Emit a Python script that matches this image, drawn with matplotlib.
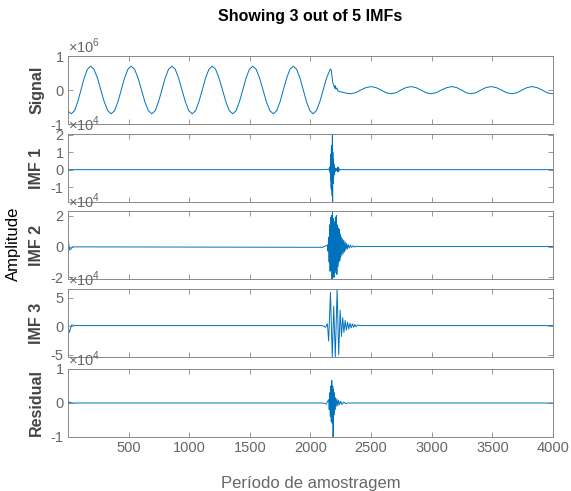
import matplotlib
matplotlib.use('Agg')
from matplotlib import pyplot as plt

plt.rcParams['font.family'] = ['Liberation Sans', 'DejaVu Sans']
plt.rcParams['mathtext.fontset'] = 'custom'
plt.rcParams['mathtext.rm'] = 'Liberation Sans'
plt.rcParams['axes.unicode_minus'] = False

# signal (x10^6) at ~1/12 period steps
sig_x = [1, 28, 55, 81, 108, 134, 161, 187, 215, 244, 272, 300, 329,
         357, 385, 412, 440, 467, 495, 522, 550, 579, 607, 635, 664,
         692, 720, 747, 775, 802, 830, 857, 885, 913, 941, 969, 997,
         1025, 1053, 1080, 1108, 1135, 1163, 1190, 1218, 1246, 1275, 1303, 1331,
         1359, 1387, 1414, 1442, 1469, 1497, 1524, 1552, 1581, 1609, 1637, 1666,
         1694, 1722, 1749, 1776, 1804, 1831, 1859, 1886, 1914, 1941, 1968, 1996,
         2023, 2050, 2077, 2105, 2130, 2150, 2165, 2172, 2185,
         2195, 2200, 2205, 2210, 2218, 2225, 2240, 2260, 2290, 2329, 2372, 2415, 2458,
         2500, 2541, 2582, 2623, 2664, 2706, 2747, 2788, 2829, 2870, 2911, 2952, 2993,
         3037, 3080, 3124, 3167, 3206, 3245, 3284, 3323, 3364, 3405, 3447, 3488, 3532,
         3575, 3618, 3661, 3703, 3745, 3786, 3826, 3868, 3910, 3952, 3993, 4000]
sig_y = [-0.62, -0.70, -0.61, -0.35, 0.0, 0.35, 0.61, 0.70, 0.61, 0.35, 0.0, -0.35, -0.61,
         -0.70, -0.61, -0.35, 0.0, 0.35, 0.61, 0.70, 0.61, 0.35, 0.0, -0.35, -0.61,
         -0.70, -0.61, -0.35, 0.0, 0.35, 0.61, 0.70, 0.61, 0.35, 0.0, -0.35, -0.61,
         -0.70, -0.61, -0.35, 0.0, 0.35, 0.61, 0.70, 0.61, 0.35, 0.0, -0.35, -0.61,
         -0.70, -0.61, -0.35, 0.0, 0.35, 0.61, 0.70, 0.61, 0.35, 0.0, -0.35, -0.61,
         -0.70, -0.61, -0.35, 0.0, 0.35, 0.61, 0.70, 0.61, 0.35, 0.0, -0.35, -0.61,
         -0.70, -0.60, -0.35, 0.0, 0.32, 0.50, 0.62, 0.58, 0.20,
         0.12, 0.05, 0.13, 0.02, 0.06, -0.02, -0.05, -0.06, -0.09,
         -0.11, -0.08, 0.0, 0.07, 0.10, 0.07, 0.0, -0.08, -0.11, -0.08, 0.0, 0.07, 0.10,
         0.07, 0.0, -0.08, -0.11, -0.08, 0.0, 0.07, 0.10, 0.07, 0.0, -0.08, -0.11, -0.08,
         0.0, 0.07, 0.10, 0.07, 0.0, -0.08, -0.11, -0.08, 0.0, 0.07, 0.10, 0.07, 0.0,
         -0.08, -0.11, -0.11]

# IMF 1 (x10^4)
imf1_x = [1, 4, 10, 2100, 2150, 2155, 2158, 2161, 2163, 2165, 2167, 2169, 2171, 2173, 2175,
          2177, 2179, 2181, 2183, 2185, 2187, 2189, 2191, 2193, 2195, 2197, 2200, 2203,
          2206, 2210, 2215, 2220, 2223, 2226, 2229, 2232, 2236, 2240, 2250, 4000]
imf1_y = [0.15, -0.05, 0.0, 0.0, 0.02, 0.05, -0.05, 0.15, -0.2, 0.4, -0.6, 0.9, -1.1, 1.3,
          -1.2, 1.4, -1.5, 2.05, -1.86, 1.0, -0.8, 0.6, -0.5, 0.35, -0.3, 0.2, -0.15, 0.1,
          -0.08, 0.05, -0.05, 0.08, -0.12, 0.15, -0.12, 0.1, -0.05, 0.02, 0.0, 0.0]

# IMF 2 (x10^4)
imf2_x = [1, 8, 16, 40, 2100, 2140, 2145, 2150, 2154, 2158, 2162, 2166, 2170, 2174, 2178,
          2182, 2186, 2190, 2194, 2198, 2202, 2206, 2210, 2214, 2218, 2222, 2226, 2230,
          2234, 2238, 2242, 2246, 2250, 2255, 2260, 2265, 2270, 2275, 2280, 2286, 2292,
          2298, 2305, 2312, 2320, 2330, 2340, 2352, 2365, 2380, 2400, 4000]
imf2_y = [0.7, 0.1, -0.23, -0.02, -0.05, 0.1, -0.3, 0.6, -1.0, 1.4, -1.6, 1.9, -1.5, 2.0,
          -2.1, 2.25, -1.9, 1.8, -2.0, 1.6, -1.7, 1.9, -1.5, 2.0, -1.8, 1.4, -1.3, 1.2,
          -1.0, 1.1, -0.9, 0.8, -0.7, 0.6, -0.55, 0.5, -0.45, 0.4, -0.35, 0.3, -0.25, 0.2,
          -0.15, 0.12, -0.1, 0.08, -0.06, 0.05, -0.03, 0.02, 0.0, 0.0]

# IMF 3 (x10^4)
imf3_x = [1, 6, 12, 30, 60, 2100, 2125, 2140, 2150, 2165, 2180, 2192, 2205, 2220, 2233,
          2245, 2256, 2266, 2276, 2286, 2296, 2306, 2316, 2326, 2336, 2346, 2356, 2366,
          2376, 2390, 2410, 4000]
imf3_y = [1.9, -0.6, -1.1, 0.2, 0.1, 0.1, -0.2, 0.4, -2.6, 5.9, -5.4, 3.5, -5.4, 6.5, -5.0,
          2.8, -1.8, 1.5, -1.1, 1.0, -0.7, 0.7, -0.5, 0.5, -0.3, 0.4, -0.2, 0.3, -0.1,
          0.2, 0.1, 0.1]

# Residual (x10^4)
res_x = [1, 5, 10, 30, 2100, 2130, 2150, 2155, 2160, 2164, 2168, 2172, 2176, 2180, 2184,
         2187, 2190, 2194, 2198, 2202, 2206, 2212, 2218, 2225, 2232, 2240, 2250, 2260,
         2275, 2290, 2305, 4000]
res_y = [0.08, -0.05, 0.03, 0.0, 0.0, -0.03, 0.1, -0.2, 0.3, -0.4, 0.5, -0.55, 0.66, -0.6,
         0.5, -1.0, 0.4, -0.35, 0.3, -0.2, 0.15, -0.1, 0.12, -0.08, 0.08, -0.05, 0.05,
         -0.04, 0.03, -0.02, 0.0, 0.0]

names = ['Signal', 'IMF 1', 'IMF 2', 'IMF 3', 'Residual']
xs = [sig_x, imf1_x, imf2_x, imf3_x, res_x]
ys = [sig_y, imf1_y, imf2_y, imf3_y, res_y]
ylims = [(-1, 1), (-1.86, 2.05), (-2.1, 2.3), (-5.4, 6.5), (-1.0, 1.0)]
yticks = [[-1, 0, 1], [-1, 0, 1, 2], [-2, 0, 2], [-5, 0, 5], [-1, 0, 1]]
exps = ['6', '4', '4', '4', '4']
xticks = [500, 1000, 1500, 2000, 2500, 3000, 3500, 4000]

W, H = 571, 491
fig = plt.figure(figsize=(W / 100, H / 100), dpi=100)

left, right = 68, 553
tops = [56, 134, 211, 289, 369]
ph = 68
grey = '#666666'

axes = []
for i in range(5):
    ax = fig.add_axes([left / W, 1 - (tops[i] + ph) / H, (right - left) / W, ph / H])
    ax.plot(xs[i], ys[i], color='#0072BD', linewidth=0.7)
    ax.set_xlim(1, 4000)
    ax.set_ylim(*ylims[i])
    ax.set_yticks(yticks[i])
    ax.set_xticks(xticks)
    ax.tick_params(direction='in', top=True, right=True, length=3.5, width=0.6,
                   colors='#888888', labelcolor=grey, labelsize=10.5, pad=3)
    if i < 4:
        ax.tick_params(labelbottom=False)
    for s in ax.spines.values():
        s.set_color('#888888')
        s.set_linewidth(0.7)
    ax.set_ylabel(names[i], fontsize=11.5, fontweight='bold', color='#444444')
    ax.yaxis.set_label_coords(-0.049, 0.5)
    ax.text(0.0, 1.0, r'$\times10^{%s}$' % exps[i], transform=ax.transAxes,
            ha='left', va='bottom', fontsize=10.5, color=grey)
    axes.append(ax)

axes[0].set_title('Showing 3 out of 5 IMFs', fontsize=11.5, fontweight='bold', pad=25)
axes[4].set_xlabel('Período de amostragem', fontsize=12, color=grey, labelpad=15)
fig.text(13 / W, 1 - 244 / H, 'Amplitude', rotation=90, ha='center', va='center',
         fontsize=12, color='black')

fig.savefig('out.png', dpi=100)
